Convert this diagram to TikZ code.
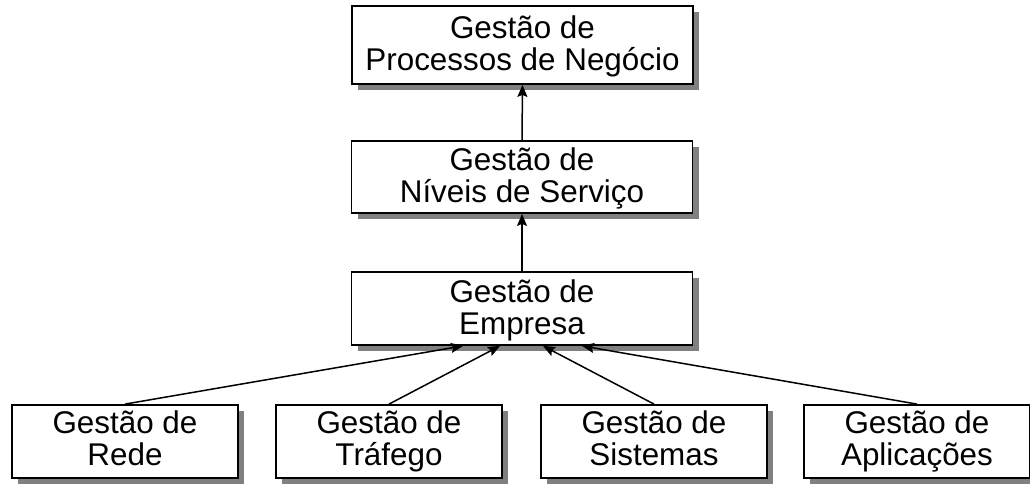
\documentclass[tikz,border=0pt]{standalone}
\usepackage{fontspec}
\setmainfont{Liberation Sans}
\usetikzlibrary{shadows,arrows.meta,calc}
% uniform line heights so every label sits at the same baselines
\newcommand{\ls}{\rule[-4pt]{0pt}{30pt}}
\newcommand{\lsb}{\rule[-7pt]{0pt}{27pt}}
\tikzset{
  mgmtbox/.style={draw=black, line width=1.8pt, fill=white, align=center,
    inner sep=0pt, font=\fontsize{31.4}{32}\selectfont,
    drop shadow={shadow xshift=6pt, shadow yshift=-6pt, fill=black!50, opacity=1}},
  wide/.style={mgmtbox, minimum width=341pt},
  narrow/.style={mgmtbox, minimum width=226pt},
  link/.style={line width=1.5pt, -{Stealth[length=12pt,width=10pt,inset=2pt]}}
}
\begin{document}
\begin{tikzpicture}[x=1pt,y=-1pt]
  \useasboundingbox (0,0) rectangle (1030,484);

  % upper chain
  \node[wide, minimum height=78pt] (bpm) at (522.5,45) {\ls Gestão de\\\ls Processos de Negócio};
  \node[wide, minimum height=72pt] (slm) at (522,177) {\ls Gestão de\\\ls Níveis de Serviço};
  \node[wide, minimum height=73pt] (emp) at (522,308.5) {\ls Gestão de\\\ls Empresa};

  % lower layer
  \node[narrow, minimum height=73pt] (rede) at (125,441.5) {\lsb Gestão de\\\lsb Rede};
  \node[narrow, minimum height=73pt] (traf) at (389,441.5) {\lsb Gestão de\\\lsb Tráfego};
  \node[narrow, minimum height=73pt] (sist) at (654,441.5) {\lsb Gestão de\\\lsb Sistemas};
  \node[narrow, minimum height=73pt] (apl) at (917,441.5) {\lsb Gestão de\\\lsb Aplicações};

  % arrival points on the enterprise box
  \coordinate (e1) at ($(emp.south)+(-59,0)$);
  \coordinate (e2) at ($(emp.south)+(-22,0)$);
  \coordinate (e3) at ($(emp.south)+(21,0)$);
  \coordinate (e4) at ($(emp.south)+(60,0)$);

  \draw[link] (slm.north) -- (bpm.south);
  \draw[link] (emp.north) -- (slm.south);
  \draw[link] (rede.north) -- (e1);
  \draw[link] (traf.north) -- (e2);
  \draw[link] (sist.north) -- (e3);
  \draw[link] (apl.north) -- (e4);
\end{tikzpicture}
\end{document}
